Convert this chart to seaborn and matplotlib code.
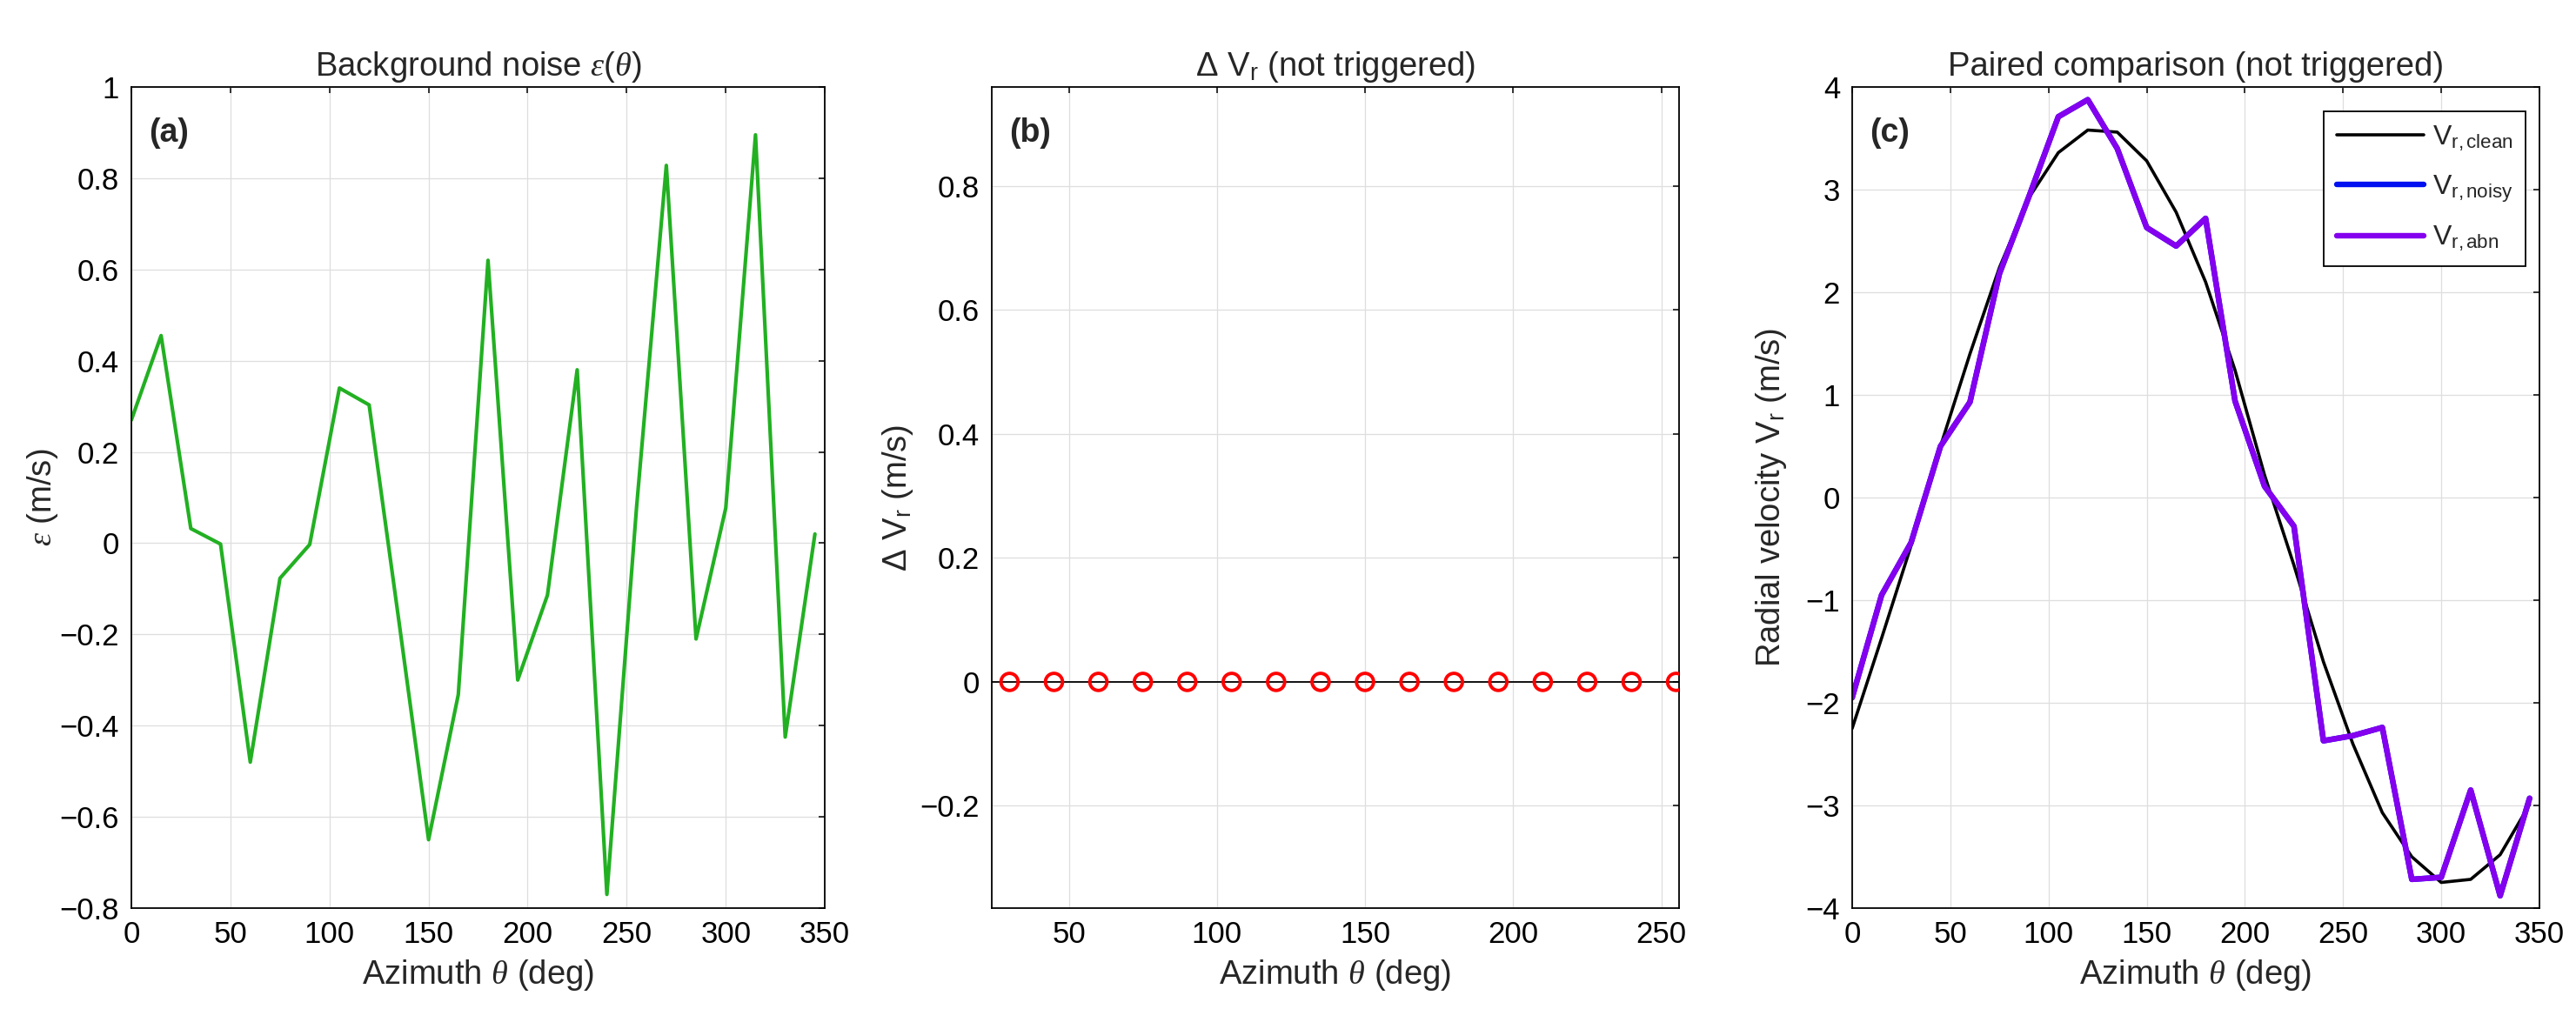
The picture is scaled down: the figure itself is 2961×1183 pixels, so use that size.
import matplotlib
matplotlib.use('Agg')
import matplotlib.pyplot as plt
from matplotlib.ticker import FuncFormatter
import seaborn as sns

# Azimuth samples (deg)
azimuth = [0, 15, 30, 45, 60, 75, 90, 105, 120, 135, 150, 165,
           180, 195, 210, 225, 240, 255, 270, 285, 300, 315, 330, 345]

# (a) background noise eps(theta) in m/s
noise = [0.27, 0.455, 0.032, -0.002, -0.48, -0.077, -0.003, 0.34, 0.303, -0.17, -0.65, -0.332,
         0.62, -0.30, -0.114, 0.38, -0.77, 0.08, 0.828, -0.21, 0.077, 0.895, -0.425, 0.02]

# (b) delta Vr at the checked azimuths (not triggered -> all zero)
dv_azimuth = [30, 45, 60, 75, 90, 105, 120, 135, 150, 165, 180, 195, 210, 225, 240, 255]
dv_values = [0.0, 0.0, 0.0, 0.0, 0.0, 0.0, 0.0, 0.0, 0.0, 0.0, 0.0, 0.0, 0.0, 0.0, 0.0, 0.0]

# (c) radial velocities in m/s
vr_clean = [-2.25, -1.37, -0.47, 0.50, 1.40, 2.24, 2.92, 3.36, 3.58, 3.56, 3.28, 2.78,
            2.10, 1.24, 0.22, -0.66, -1.60, -2.40, -3.07, -3.50, -3.75, -3.72, -3.48, -2.99]
vr_noisy = [-1.95, -0.95, -0.44, 0.50, 0.93, 2.18, 2.93, 3.71, 3.876, 3.40, 2.63, 2.45,
            2.72, 0.94, 0.11, -0.28, -2.37, -2.32, -2.24, -3.72, -3.70, -2.85, -3.88, -2.93]
vr_abn = list(vr_noisy)  # no anomaly injected, so abn == noisy

sns.set_theme(style='white')
plt.rcParams['font.family'] = ['Liberation Sans', 'DejaVu Sans']
plt.rcParams['mathtext.fontset'] = 'custom'
plt.rcParams['mathtext.rm'] = 'Liberation Sans'
plt.rcParams['mathtext.it'] = 'Liberation Serif:italic'
plt.rcParams['mathtext.bf'] = 'Liberation Sans:bold'

TICK_FS = 25
LABEL_FS = 27.5


def fmt(v, _):
    return f'{v:g}'.replace('-', '\u2212')


def style_axes(ax, xlim, ylim, xticks, yticks, title, ylabel, tag, ylabelpad):
    ax.set_xlim(*xlim)
    ax.set_ylim(*ylim)
    ax.set_xticks(xticks)
    ax.set_yticks(yticks)
    ax.xaxis.set_major_formatter(FuncFormatter(fmt))
    ax.yaxis.set_major_formatter(FuncFormatter(fmt))
    ax.grid(True, color='#dedede', linewidth=0.9)
    ax.set_axisbelow(True)
    ax.tick_params(direction='in', top=True, right=True, length=5, width=1.1,
                   labelsize=TICK_FS, pad=10, colors='black')
    for s in ax.spines.values():
        s.set_color('black')
        s.set_linewidth(1.3)
    ax.set_title(title, fontsize=LABEL_FS, pad=9)
    ax.set_xlabel(r'Azimuth $\theta$ (deg)', fontsize=LABEL_FS, labelpad=7)
    ax.set_ylabel(ylabel, fontsize=LABEL_FS, labelpad=ylabelpad)
    ax.text(0.025, 0.963, tag, transform=ax.transAxes, fontsize=27,
            fontweight='bold', va='top', ha='left')


fig = plt.figure(figsize=(29.61, 11.83), dpi=100)
bottom, height = 0.1175, 0.798
ax_a = fig.add_axes([0.0510, bottom, 0.2692, height])
ax_b = fig.add_axes([0.3850, bottom, 0.2668, height])
ax_c = fig.add_axes([0.7190, bottom, 0.2668, height])

# (a) background noise
sns.lineplot(x=azimuth, y=noise, ax=ax_a, color='#22b022', linewidth=3)
style_axes(ax_a, (0, 350), (-0.8, 1), [0, 50, 100, 150, 200, 250, 300, 350],
           [-0.8, -0.6, -0.4, -0.2, 0, 0.2, 0.4, 0.6, 0.8, 1],
           r'Background noise $\epsilon(\theta)$', r'$\epsilon$ (m/s)', '(a)', 0)

# (b) delta Vr
ax_b.axhline(0, color='black', linewidth=1.3, zorder=2)
sns.scatterplot(x=dv_azimuth, y=dv_values, ax=ax_b, marker='o', s=200,
                facecolors='none', edgecolor='red', linewidth=2.8, zorder=3)
style_axes(ax_b, (24, 256), (-0.365, 0.96), [50, 100, 150, 200, 250],
           [-0.2, 0, 0.2, 0.4, 0.6, 0.8],
           r'$\Delta$ V$_\mathrm{r}$ (not triggered)', r'$\Delta$ V$_\mathrm{r}$ (m/s)', '(b)', 4)

# (c) paired comparison
sns.lineplot(x=azimuth, y=vr_clean, ax=ax_c, color='black', linewidth=2.6,
             label=r'V$_\mathrm{r,clean}$')
sns.lineplot(x=azimuth, y=vr_noisy, ax=ax_c, color='#0010f0', linewidth=4.6,
             label=r'V$_\mathrm{r,noisy}$')
sns.lineplot(x=azimuth, y=vr_abn, ax=ax_c, color='#8400ee', linewidth=4.6,
             label=r'V$_\mathrm{r,abn}$')
style_axes(ax_c, (0, 350), (-4, 4), [0, 50, 100, 150, 200, 250, 300, 350],
           [-4, -3, -2, -1, 0, 1, 2, 3, 4],
           'Paired comparison (not triggered)', r'Radial velocity V$_\mathrm{r}$ (m/s)', '(c)', 14)
leg = ax_c.legend(loc='upper right', bbox_to_anchor=(0.9797, 0.9704), borderaxespad=0,
                  fontsize=23, handlelength=3.15, handletextpad=0.3, labelspacing=0.72,
                  borderpad=0.45, fancybox=False, framealpha=1, edgecolor='black')
leg.get_frame().set_linewidth(1.3)

fig.savefig('out.png', dpi=100)
